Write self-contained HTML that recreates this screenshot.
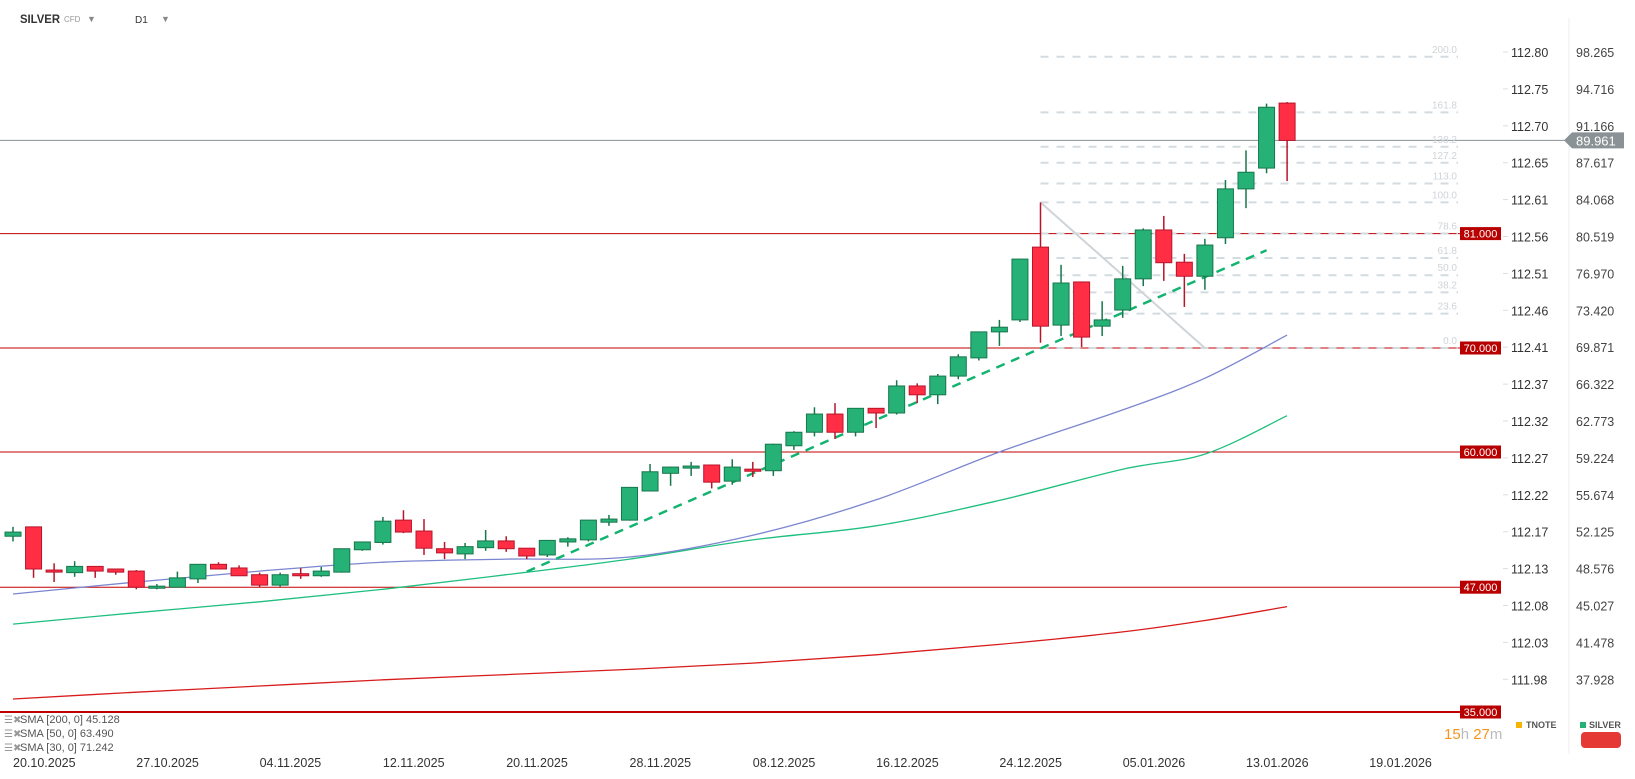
<!DOCTYPE html>
<html><head><meta charset="utf-8"><style>
html,body{margin:0;padding:0;background:#fff;width:1635px;height:779px;overflow:hidden;font-family:"Liberation Sans",sans-serif;}
svg{display:block}
</style></head><body>
<svg id="chart" width="1635" height="779" viewBox="0 0 1635 779" xmlns="http://www.w3.org/2000/svg">
<g>
<text x="20" y="23" font-size="12" font-weight="bold" fill="#333" textLength="40" lengthAdjust="spacingAndGlyphs">SILVER</text>
<text x="64" y="22" font-size="8" fill="#999">CFD</text>
<text x="87" y="22" font-size="9" fill="#888">▼</text>
<text x="135" y="23" font-size="10" fill="#333">D1</text>
<text x="161" y="22" font-size="9" fill="#888">▼</text>
</g>
<line x1="1569" y1="18" x2="1569" y2="754" stroke="#eee"/>
<g id="grid"></g>
<g id="levels"></g>
<g id="fib"></g>
<g id="smas"></g>
<g id="trend"></g>
<g id="candles"></g>
<g id="axes"></g>
<g font-size="11" fill="#555">
<text x="4" y="723" font-size="10" fill="#999">☰✖</text><text x="20" y="723">SMA [200, 0] 45.128</text>
<text x="4" y="737" font-size="10" fill="#999">☰✖</text><text x="20" y="737">SMA [50, 0] 63.490</text>
<text x="4" y="751" font-size="10" fill="#999">☰✖</text><text x="20" y="751">SMA [30, 0] 71.242</text>
</g>
<g font-size="15">
<text x="1444" y="739"><tspan fill="#f7941d">15</tspan><tspan fill="#bbb">h </tspan><tspan fill="#f7941d">27</tspan><tspan fill="#bbb">m</tspan></text>
</g>
<g font-size="9" font-weight="bold" fill="#555">
<rect x="1516" y="722" width="6" height="6" fill="#f4b400"/>
<text x="1526" y="728">TNOTE</text>
<rect x="1580" y="722" width="6" height="6" fill="#26b276"/>
<text x="1589" y="728">SILVER</text>
<rect x="1581" y="732" width="40" height="16" rx="4" fill="#e53935"/>
</g>
</svg>
<script>
const opens=[51.9,52.8,48.65,48.4,49.0,48.75,48.55,46.9,47.0,47.8,49.2,48.85,48.2,47.2,48.3,48.1,48.45,50.6,51.3,53.45,52.4,50.7,50.2,50.8,51.45,50.75,50.1,51.35,51.55,53.25,53.45,56.25,57.95,58.45,58.75,57.2,58.35,58.2,60.6,61.9,63.65,61.9,64.2,63.75,66.35,65.5,67.3,69.05,71.55,72.7,79.7,72.2,76.35,72.1,73.65,76.65,81.35,78.25,76.9,80.6,85.3,87.3,93.55];
const highs=[52.8,52.8,49.3,49.5,49.0,48.75,48.65,47.3,48.5,49.2,49.4,49.1,48.4,48.4,48.85,48.95,50.7,51.35,53.75,54.4,53.55,51.35,51.25,52.5,51.9,50.75,51.5,51.8,53.45,53.95,56.6,58.85,58.6,59.05,58.75,59.3,59.05,60.8,62.0,64.3,64.7,64.2,64.2,66.9,66.6,67.5,69.4,71.55,72.7,78.55,84.0,78.0,76.4,74.5,77.9,81.5,82.7,79.05,80.5,86.15,89.0,93.5,93.65];
const lows=[51.4,47.9,47.5,48.0,47.9,48.2,46.8,46.8,47.0,47.4,48.75,48.1,47.0,47.0,47.8,48.0,48.4,50.5,51.1,52.2,50.1,49.7,49.7,50.5,50.4,49.7,49.9,50.9,51.4,52.9,53.4,56.2,56.75,57.7,56.5,56.85,57.6,57.7,60.2,61.5,61.25,61.5,62.3,63.6,64.7,64.6,67.0,68.8,70.2,72.5,70.5,71.15,70.1,71.15,72.9,75.95,76.45,73.95,75.6,80.0,83.45,86.8,86.05];
const closes=[52.3,48.75,48.45,49.0,48.55,48.45,47.0,47.1,47.9,49.2,48.75,48.1,47.2,48.2,48.1,48.55,50.7,51.35,53.35,52.3,50.75,50.3,50.9,51.45,50.7,50.0,51.5,51.65,53.45,53.55,56.6,58.1,58.55,58.65,57.1,58.55,58.15,60.75,61.9,63.65,61.9,64.2,63.75,66.35,65.5,67.3,69.15,71.55,72.0,78.55,72.1,76.25,71.05,72.7,76.65,81.35,78.2,76.9,79.9,85.3,86.9,93.15,89.96];
const smaIdx=[0,6,12,18,24,30,36,42,48,54,58,62];
const sma30=[46.35,47.5,48.55,49.4,49.7,49.9,52.0,55.4,60.0,64.05,67.1,71.24];
const sma50=[43.45,44.55,45.6,46.8,48.2,49.7,51.55,52.9,55.35,58.35,59.8,63.49];
const sma200=[36.25,36.9,37.5,38.1,38.6,39.1,39.7,40.5,41.5,42.7,43.8,45.13];
const levelPrices=[81,70,60,47,35];
const fibRatios=[0,23.6,38.2,50,61.8,78.6,100,113,127.2,138.2,161.8,200];
const fibLow=70, fibHigh=84, fibStartIdx=50, fibEndIdx=58;
const trendStart=[25,48.5], trendEnd=[61,79.4];
const lastPrice=89.961;
const axisLeft=["112.80","112.75","112.70","112.65","112.61","112.56","112.51","112.46","112.41","112.37","112.32","112.27","112.22","112.17","112.13","112.08","112.03","111.98"];
const axisRight=["98.265","94.716","91.166","87.617","84.068","80.519","76.970","73.420","69.871","66.322","62.773","59.224","55.674","52.125","48.576","45.027","41.478","37.928"];
const dateLabels=["20.10.2025","27.10.2025","04.11.2025","12.11.2025","20.11.2025","28.11.2025","08.12.2025","16.12.2025","24.12.2025","05.01.2026","13.01.2026","19.01.2026"];

const NS="http://www.w3.org/2000/svg";
const X=k=>13+20.55*k;
const Y=p=>348-(p-70)*10.4;
function mk(tag,attrs,parent){const e=document.createElementNS(NS,tag);for(const a in attrs)e.setAttribute(a,attrs[a]);parent.appendChild(e);return e;}
const G=id=>document.getElementById(id);

levelPrices.forEach((p,i)=>{
  const l=mk('line',{x1:0,x2:1460,y1:Y(p),y2:Y(p),stroke:'#c00000','stroke-width':p===35?2:1},G('levels'));
  
  
  const r=mk('rect',{x:1460,y:Y(p)-6.5,width:41,height:13,fill:'#b80000'},G('levels'));
  
  
  const t=mk('text',{x:1480.5,y:Y(p)+4,'font-size':11,fill:'#fff','text-anchor':'middle'},G('levels'));
  
  
  t.textContent=p.toFixed(3);
});
const lp=mk('line',{x1:0,x2:1565,y1:Y(lastPrice),y2:Y(lastPrice),stroke:'#8a9296','stroke-width':1},G('levels'));


const lpb=mk('path',{d:`M1564 ${Y(lastPrice)} L1572 ${Y(lastPrice)-8} L1624 ${Y(lastPrice)-8} L1624 ${Y(lastPrice)+8} L1572 ${Y(lastPrice)+8} Z`,fill:'#8a9296'},G('levels'));


const lpt=mk('text',{x:1576,y:Y(lastPrice)+5,'font-size':13,fill:'#fff'},G('levels'));


lpt.textContent=lastPrice.toFixed(3);

fibRatios.forEach(r=>{
  const p=fibLow+(fibHigh-fibLow)*r/100;
  const l=mk('line',{x1:X(fibStartIdx),x2:1458,y1:Y(p),y2:Y(p),stroke:'#d3dbe0','stroke-width':2,'stroke-dasharray':'8 8'},G('fib'));
  
  
  const t=mk('text',{x:1457,y:Y(p)-4,'font-size':10,fill:'#cfd4d8','text-anchor':'end'},G('fib'));
  
  
  t.textContent=r.toFixed(1);
});
const fd=mk('line',{x1:X(fibStartIdx),y1:Y(fibHigh),x2:X(fibEndIdx),y2:Y(fibLow),stroke:'#cfd4d8','stroke-width':2},G('fib'));



function smaPath(vals,color,name){
  const pts=vals.map((v,i)=>[X(smaIdx[i]),Y(v)]);
  let d='M'+pts[0][0].toFixed(1)+' '+pts[0][1].toFixed(1);
  for(let i=0;i<pts.length-1;i++){
    const p0=pts[Math.max(0,i-1)],p1=pts[i],p2=pts[i+1],p3=pts[Math.min(pts.length-1,i+2)];
    const c1=[p1[0]+(p2[0]-p0[0])/6,p1[1]+(p2[1]-p0[1])/6];
    const c2=[p2[0]-(p3[0]-p1[0])/6,p2[1]-(p3[1]-p1[1])/6];
    d+=` C${c1[0].toFixed(1)} ${c1[1].toFixed(1)} ${c2[0].toFixed(1)} ${c2[1].toFixed(1)} ${p2[0].toFixed(1)} ${p2[1].toFixed(1)}`;
  }
  const p=mk('path',{d:d,fill:'none',stroke:color,'stroke-width':1.3},G('smas'));
  
  
}
smaPath(sma200,'#d81b1b','sma200-line');
smaPath(sma50,'#1fbf7f','sma50-line');
smaPath(sma30,'#7b86d0','sma30-line');

const tl=mk('line',{x1:X(trendStart[0]),y1:Y(trendStart[1]),x2:X(trendEnd[0]),y2:Y(trendEnd[1]),stroke:'#12b36f','stroke-width':2.5,'stroke-dasharray':'9 7'},G('trend'));



opens.forEach((o,k)=>{
  const c=closes[k],up=c>=o;
  const fill=up?'#26b276':'#ff2e45',stroke=up?'#17774c':'#b8142a';
  const g=mk('g',{},G('candles'));
  
  
  mk('line',{x1:X(k),x2:X(k),y1:Y(highs[k]),y2:Y(lows[k]),stroke:stroke,'stroke-width':1.5},g);
  const top=Y(Math.max(o,c)),bot=Y(Math.min(o,c));
  mk('rect',{x:X(k)-8,y:top,width:16,height:Math.max(1.5,bot-top),fill:fill,stroke:stroke,'stroke-width':1},g);
});

axisLeft.forEach((t,i)=>{
  const y=56+i*36.9;
  const tk=mk('line',{x1:1503,x2:1508,y1:y-4,y2:y-4,stroke:'#ddd'},G('axes'));
  
  
  const a=mk('text',{x:1511,y:y+1,'font-size':12.5,fill:'#333'},G('axes'));
  
  
  a.textContent=t;
  const b=mk('text',{x:1576,y:y+1,'font-size':12.5,fill:'#444'},G('axes'));
  
  
  b.textContent=axisRight[i];
});
dateLabels.forEach((t,j)=>{
  const e=mk('text',{x:X(6*j),y:767,'font-size':12.5,fill:'#333'},G('axes'));
  
  
  e.textContent=t;
});
</script>
</body></html>
